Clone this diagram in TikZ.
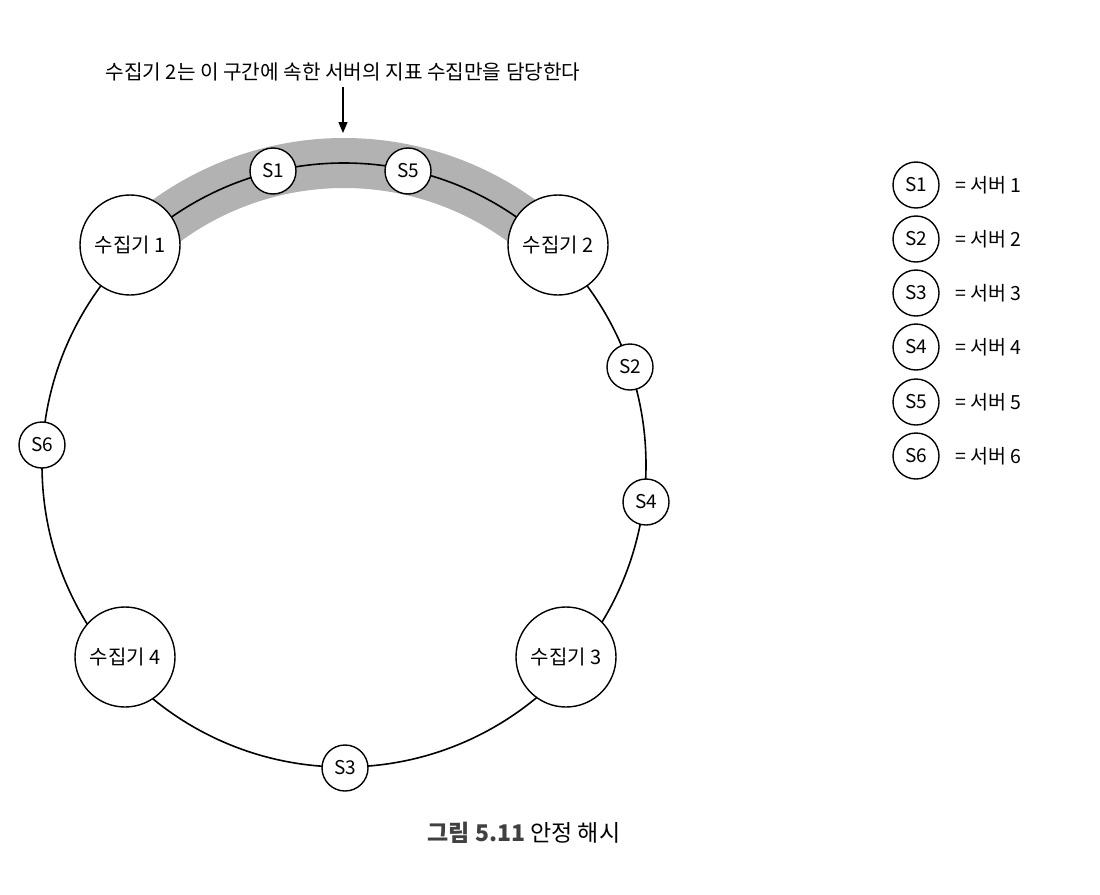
\documentclass[tikz,border=0pt]{standalone}
\usepackage{fontspec}
\setmainfont{Noto Sans CJK KR}
\usetikzlibrary{arrows.meta}
\begin{document}
\begin{tikzpicture}[x=1pt,y=-1pt,
  ring/.style={line width=1.6pt},
  band/.style={line width=50pt,color=black!30},
  srv/.style={circle,draw,line width=1.4pt,fill=white,minimum size=46pt,inner sep=0pt,font=\fontsize{19}{19}\selectfont},
  col/.style={circle,draw,line width=1.4pt,fill=white,minimum size=100pt,inner sep=0pt,font=\fontsize{20}{20}\selectfont},
  lab/.style={anchor=west,inner sep=0pt,font=\fontsize{19.5}{19.5}\selectfont},
  note/.style={inner sep=0pt,font=\fontsize{20.2}{20.2}\selectfont},
  arr/.style={line width=1.3pt,-{Triangle[length=11pt,width=9pt]}}]
\useasboundingbox (0,0) rectangle (1100,894);
\coordinate (c) at (344,465);
% shaded band
\draw[band] (c) ++(-136:302) arc[start angle=-136,end angle=-44,radius=302];
% ring
\draw[ring] (c) circle[radius=302];
% collectors
\node[col] (k1) at (130,245) {수집기 1};
\node[col] (k2) at (558,245) {수집기 2};
\node[col] (k3) at (566,657) {수집기 3};
\node[col] (k4) at (125,657) {수집기 4};
% servers
\node[srv] (s1) at (273,171) {S1};
\node[srv] (s5) at (408,171) {S5};
\node[srv] (s2) at (630,367) {S2};
\node[srv] (s4) at (646,502) {S4};
\node[srv] (s3) at (345,768) {S3};
\node[srv] (s6) at (42,445) {S6};
% title and arrow
\node[note] (title) at (343,72) {수집기 2는 이 구간에 속한 서버의 지표 수집만을 담당한다};
\coordinate (bandtop) at (343,133);
\draw[arr] (343,87) -- (bandtop);
% legend
\foreach \i/\y in {1/185,2/239,3/293,4/347,5/402,6/456}{
  \node[srv] (l\i) at (916,\y) {S\i};
  \node[lab] (t\i) at (955,\y) {= 서버 \i};
}
% caption
\node[note,font=\fontsize{23}{23}\selectfont] (cap) at (524,833) {\textcolor{black!75}{\textbf{그림 5.11}} 안정 해시};
\end{tikzpicture}
\end{document}
